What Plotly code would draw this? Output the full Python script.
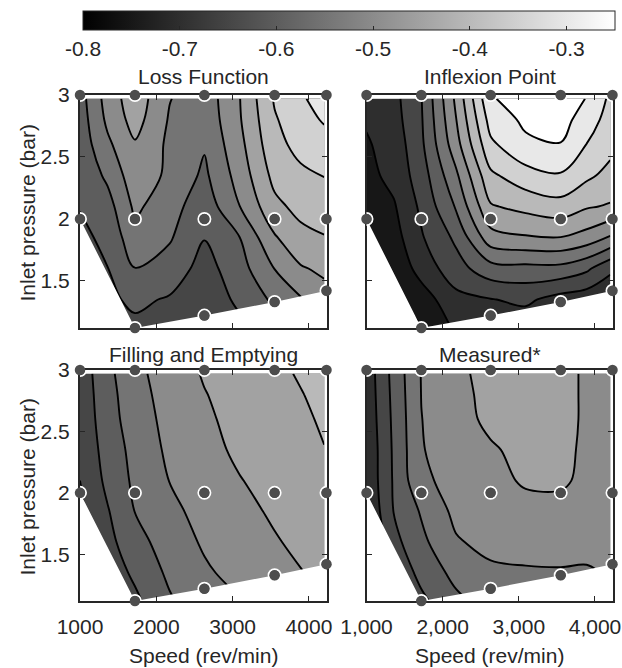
import plotly.graph_objects as go

W, H = 622, 668

# ---------------- data ----------------
speed_grid = [1000, 1360, 1720, 2175, 2630, 3090, 3550, 3890, 4200]
pressure_grid = [1.13, 1.35, 1.6, 1.85, 2.1, 2.35, 2.6, 2.8, 2.97]

# rows: pressure (bottom -> top); columns: speed_grid
loss_z = [
    [-0.62, -0.61, -0.61, -0.62, -0.64, -0.61, -0.57, -0.54, -0.50],
    [-0.62, -0.61, -0.59, -0.605, -0.63, -0.59, -0.54, -0.505, -0.47],
    [-0.62, -0.601, -0.551, -0.57, -0.62, -0.57, -0.499, -0.455, -0.44],
    [-0.61, -0.59, -0.515, -0.545, -0.598, -0.551, -0.455, -0.415, -0.403],
    [-0.598, -0.57, -0.49, -0.53, -0.58, -0.501, -0.413, -0.385, -0.37],
    [-0.59, -0.54, -0.47, -0.51, -0.56, -0.48, -0.385, -0.36, -0.349],
    [-0.58, -0.51, -0.455, -0.51, -0.545, -0.465, -0.365, -0.335, -0.32],
    [-0.575, -0.49, -0.43, -0.505, -0.535, -0.455, -0.355, -0.32, -0.295],
    [-0.57, -0.48, -0.42, -0.498, -0.53, -0.452, -0.345, -0.31, -0.27],
]
inflexion_z = [
    [-0.78, -0.77, -0.752, -0.69, -0.68, -0.68, -0.69, -0.71, -0.72],
    [-0.77, -0.76, -0.725, -0.665, -0.652, -0.64, -0.67, -0.68, -0.69],
    [-0.76, -0.74, -0.68, -0.62, -0.57, -0.565, -0.565, -0.59, -0.64],
    [-0.752, -0.72, -0.655, -0.59, -0.47, -0.455, -0.451, -0.47, -0.505],
    [-0.73, -0.705, -0.64, -0.545, -0.405, -0.385, -0.37, -0.395, -0.405],
    [-0.715, -0.685, -0.625, -0.51, -0.36, -0.32, -0.305, -0.34, -0.365],
    [-0.705, -0.68, -0.61, -0.47, -0.31, -0.26, -0.252, -0.301, -0.335],
    [-0.695, -0.67, -0.605, -0.452, -0.28, -0.24, -0.23, -0.275, -0.32],
    [-0.685, -0.665, -0.602, -0.44, -0.255, -0.225, -0.22, -0.252, -0.31],
]
filling_z = [
    [-0.71, -0.66, -0.61, -0.555, -0.52, -0.502, -0.48, -0.465, -0.45],
    [-0.69, -0.63, -0.59, -0.54, -0.507, -0.485, -0.466, -0.452, -0.44],
    [-0.67, -0.615, -0.569, -0.525, -0.494, -0.47, -0.454, -0.44, -0.428],
    [-0.66, -0.604, -0.549, -0.511, -0.485, -0.464, -0.443, -0.43, -0.418],
    [-0.65, -0.588, -0.54, -0.499, -0.474, -0.452, -0.435, -0.425, -0.413],
    [-0.64, -0.58, -0.534, -0.49, -0.464, -0.442, -0.425, -0.412, -0.401],
    [-0.635, -0.572, -0.524, -0.485, -0.457, -0.437, -0.42, -0.407, -0.395],
    [-0.632, -0.568, -0.519, -0.48, -0.452, -0.432, -0.415, -0.402, -0.389],
    [-0.63, -0.563, -0.514, -0.475, -0.446, -0.428, -0.41, -0.396, -0.383],
]
measured_z = [
    [-0.76, -0.67, -0.61, -0.56, -0.53, -0.52, -0.52, -0.52, -0.515],
    [-0.74, -0.64, -0.585, -0.535, -0.51, -0.506, -0.505, -0.507, -0.495],
    [-0.72, -0.615, -0.562, -0.505, -0.485, -0.48, -0.477, -0.48, -0.48],
    [-0.70, -0.598, -0.545, -0.487, -0.475, -0.466, -0.465, -0.47, -0.475],
    [-0.69, -0.594, -0.51, -0.483, -0.465, -0.444, -0.443, -0.46, -0.472],
    [-0.69, -0.592, -0.503, -0.475, -0.455, -0.438, -0.44, -0.457, -0.47],
    [-0.685, -0.589, -0.501, -0.467, -0.44, -0.43, -0.437, -0.456, -0.47],
    [-0.682, -0.586, -0.499, -0.463, -0.438, -0.429, -0.437, -0.456, -0.47],
    [-0.68, -0.583, -0.498, -0.459, -0.437, -0.428, -0.437, -0.456, -0.47],
]

# measured operating points
sample_speed = [1000, 1000, 1720, 1720, 1720, 2630, 2630, 2630,
                3550, 3550, 3550, 4230, 4230, 4230]
sample_pressure = [2.0, 3.0, 1.12, 2.0, 3.0, 1.22, 2.0, 3.0,
                   1.33, 2.0, 3.0, 1.42, 2.0, 3.0]

panel_titles = ["Loss Function", "Inflexion Point", "Filling and Emptying", "Measured*"]
speed_ticks = [1000, 2000, 3000, 4000]
speed_ticktext_plain = ["1000", "2000", "3000", "4000"]
speed_ticktext_comma = ["1,000", "2,000", "3,000", "4,000"]
pressure_ticks = [1.5, 2, 2.5, 3]
pressure_ticktext = ["1.5", "2", "2.5", "3"]
cbar_ticks = [-0.8, -0.7, -0.6, -0.5, -0.4, -0.3]
cbar_ticktext = ["-0.8", "-0.7", "-0.6", "-0.5", "-0.4", "-0.3"]
contour_levels = dict(start=-0.75, end=-0.25, size=0.05)
z_range = [-0.8, -0.25]
x_range = [1000, 4230]
y_range = [1.12, 3.0]

# ---------------- layout helpers ----------------
FONT = "Liberation Sans, Arial, sans-serif"
TXT = "#262626"
FS = 21

def px_x(p):
    return p / W

def px_y(p):
    return 1 - p / H

# panel boxes in pixels: left, top, right, bottom
boxes = [(80, 95, 326.5, 328), (366.5, 95, 612.5, 328),
         (80, 370, 326.5, 601), (366.5, 370, 612.5, 601)]
zsets = [loss_z, inflexion_z, filling_z, measured_z]

# lower hull of the sampled points -> mask of the un-sampled region
lowest = {}
for s, p in zip(sample_speed, sample_pressure):
    lowest[s] = min(lowest.get(s, p), p)
chain = sorted(lowest.items())
pad_x = 500
mask_x = [x_range[0] - pad_x] + [c[0] for c in chain] + [x_range[1] + pad_x,
                                                           x_range[1] + pad_x,
                                                           x_range[0] - pad_x]
mask_y = [chain[0][1]] + [c[1] for c in chain] + [chain[-1][1],
                                                  y_range[0] - 1,
                                                  y_range[0] - 1]

gray_scale = [[0, "rgb(0,0,0)"], [1, "rgb(255,255,255)"]]

fig = go.Figure()
layout = dict(
    width=W, height=H,
    margin=dict(l=0, r=0, t=0, b=0, pad=0, autoexpand=False),
    paper_bgcolor="white", plot_bgcolor="rgba(0,0,0,0)",
    showlegend=False, hovermode=False,
    font=dict(family=FONT, size=FS, color=TXT),
)

annotations = []
for i, (box, z) in enumerate(zip(boxes, zsets)):
    n = i + 1
    m = i + 5
    l, t, r, b = box
    xd = [px_x(l), px_x(r)]
    yd = [px_y(b), px_y(t)]
    is_bottom = i >= 2
    is_left = i % 2 == 0
    xs = "" if n == 1 else str(n)
    ms = str(m)

    axis_common = dict(showline=True, mirror="ticks", linecolor=TXT, linewidth=2,
                       ticks="inside", ticklen=5, tickwidth=1, tickcolor=TXT,
                       showgrid=False, zeroline=False, fixedrange=True,
                       tickfont=dict(family=FONT, size=FS, color=TXT))
    layout["xaxis" + xs] = dict(axis_common, domain=xd, range=x_range,
                                anchor="y" + xs, tickmode="array",
                                tickvals=speed_ticks,
                                ticktext=(speed_ticktext_plain if is_left else speed_ticktext_comma),
                                showticklabels=is_bottom, ticklabelstandoff=6)
    layout["yaxis" + xs] = dict(axis_common, domain=yd, range=y_range,
                                anchor="x" + xs, tickmode="array",
                                tickvals=pressure_ticks, ticktext=pressure_ticktext,
                                showticklabels=is_left, ticklabelstandoff=4)
    # overlay axes (same frame) for the sample-point markers, drawn above the frame
    layout["xaxis" + ms] = dict(domain=xd, range=x_range, anchor="y" + ms,
                                visible=False, fixedrange=True)
    layout["yaxis" + ms] = dict(domain=yd, range=y_range, anchor="x" + ms,
                                visible=False, fixedrange=True)

    fig.add_trace(go.Contour(
        x=speed_grid, y=pressure_grid, z=z,
        autocontour=False,
        contours=dict(contour_levels, coloring="fill", showlines=True),
        line=dict(color="black", width=1.9, smoothing=1.0),
        colorscale=gray_scale, showscale=False,
        xaxis="x" + xs, yaxis="y" + xs, hoverinfo="skip"))
    fig.add_trace(go.Scatter(
        x=mask_x, y=mask_y, mode="none", fill="toself", fillcolor="white",
        xaxis="x" + xs, yaxis="y" + xs, hoverinfo="skip"))
    fig.add_trace(go.Scatter(
        x=sample_speed, y=sample_pressure, mode="markers",
        marker=dict(size=12, color="#4d4d4d", line=dict(color="white", width=2)),
        cliponaxis=True, xaxis="x" + ms, yaxis="y" + ms, hoverinfo="skip"))
    fig.add_trace(go.Scatter(
        x=sample_speed, y=sample_pressure, mode="markers",
        marker=dict(size=10.5, color="#4d4d4d", line=dict(width=0)),
        cliponaxis=False, xaxis="x" + ms, yaxis="y" + ms, hoverinfo="skip"))

    # panel title
    title_y = t - 19 if i < 2 else t - 16
    annotations.append(dict(text=panel_titles[i], x=px_x((l + r) / 2), y=px_y(title_y),
                            xref="paper", yref="paper", xanchor="center", yanchor="middle",
                            showarrow=False, font=dict(family=FONT, size=FS, color=TXT)))
    if is_left:
        annotations.append(dict(text="Inlet pressure (bar)", x=px_x(27), y=px_y((t + b) / 2 + 2),
                                xref="paper", yref="paper", xanchor="center", yanchor="middle",
                                textangle=-90, showarrow=False,
                                font=dict(family=FONT, size=FS, color=TXT)))
    if is_bottom:
        annotations.append(dict(text="Speed (rev/min)", x=px_x((l + r) / 2), y=px_y(655),
                                xref="paper", yref="paper", xanchor="center", yanchor="middle",
                                showarrow=False, font=dict(family=FONT, size=FS, color=TXT)))

# continuous colour bar
fig.add_trace(go.Scatter(
    x=[None], y=[None], mode="markers", xaxis="x5", yaxis="y5", hoverinfo="skip",
    marker=dict(color=[z_range[0]], cmin=z_range[0], cmax=z_range[1],
                colorscale=gray_scale, showscale=True,
                colorbar=dict(orientation="h", x=px_x(349), xanchor="center",
                              y=px_y(11), yanchor="top", len=532, lenmode="pixels",
                              thickness=19, thicknessmode="pixels",
                              outlinewidth=1, outlinecolor=TXT,
                              xpad=0, ypad=0,
                              ticks="inside", ticklen=4, tickwidth=1, tickcolor=TXT,
                              tickmode="array", tickvals=cbar_ticks, ticktext=cbar_ticktext,
                              tickfont=dict(family=FONT, size=FS, color=TXT)))))

layout["annotations"] = annotations
fig.update_layout(**layout)
fig.write_html("out.html")
